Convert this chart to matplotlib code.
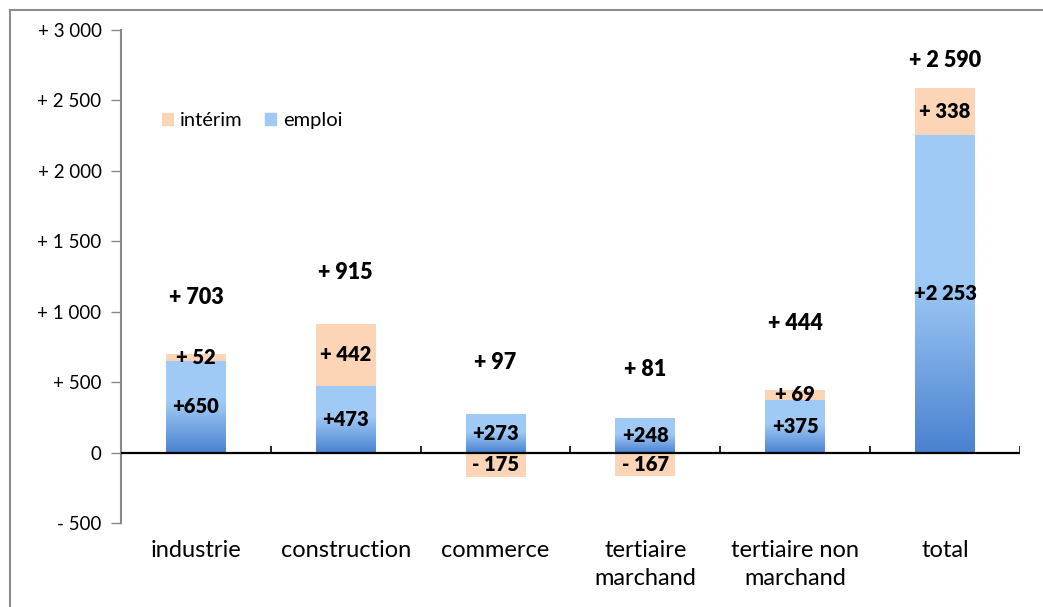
import numpy as np
import matplotlib
matplotlib.use("Agg")
import matplotlib.pyplot as plt
from matplotlib.patches import Patch, Rectangle
from matplotlib.colors import LinearSegmentedColormap

plt.rcParams["font.family"] = ["Lato", "DejaVu Sans"]

categories = ["industrie", "construction", "commerce", "tertiaire\nmarchand",
              "tertiaire non\nmarchand", "total"]
emploi = [650, 473, 273, 248, 375, 2253]
interim = [52, 442, -175, -167, 69, 338]
totals = [703, 915, 97, 81, 444, 2590]
# height (data units) where the total labels sit
total_label_y = [1100, 1278, 639, 589, 916, 2783]

yticks = [-500, 0, 500, 1000, 1500, 2000, 2500, 3000]


def fr(v, space=True):
    s = f"{abs(v):,}".replace(",", " ")
    sign = "+" if v >= 0 else "-"
    return f"{sign} {s}" if space else f"{sign}{s}"


peach = "#FBD5B5"
light_blue = "#A0CAF6"
dark_blue = "#4A82D0"

fig = plt.figure(figsize=(10.43, 6.07), dpi=100)
ax = fig.add_axes([121 / 1043, 84 / 607, 899 / 1043, 493 / 607])

x = np.arange(len(categories))
w = 0.4

# emploi bars with vertical gradient
cmap = LinearSegmentedColormap.from_list("emp", [dark_blue, light_blue])
grad = np.clip(np.linspace(0, 1, 256) / 0.55, 0, 1)[:, None]
for xi, v in zip(x, emploi):
    ax.imshow(grad, cmap=cmap, origin="lower", aspect="auto",
              extent=[xi - w / 2, xi + w / 2, 0, v], zorder=2)

bottoms = [e if i > 0 else 0 for e, i in zip(emploi, interim)]
ax.bar(x, interim, w, bottom=bottoms, color=peach, zorder=2)

# labels
for xi, e, i, b, t, ty in zip(x, emploi, interim, bottoms, totals, total_label_y):
    ax.text(xi, e / 2, fr(e, space=False) if e < 1000 else "+" + fr(e)[2:],
            ha="center", va="center", fontsize=14.5, fontweight="heavy", zorder=3)
    ax.text(xi, b + i / 2, fr(i), ha="center", va="center",
            fontsize=14.5, fontweight="heavy", zorder=3)
    ax.text(xi, ty, fr(t), ha="center", va="center",
            fontsize=15.5, fontweight="heavy", zorder=3)

ax.set_xlim(-0.5, len(categories) - 0.5)
ax.set_ylim(-500, 3000)

# zero line with category ticks
ax.axhline(0, color="black", lw=1.6, zorder=4)
ax.vlines(np.arange(0.5, len(categories)), 0, 45, color="black", lw=1.2, zorder=4)

ax.set_yticks(yticks)
ax.set_yticklabels([fr(v) if v != 0 else "0" for v in yticks], fontsize=13.5)
ax.tick_params(axis="y", length=7, color="#888888", width=1, pad=7)

ax.set_xticks(x)
ax.set_xticklabels(categories, fontsize=17, linespacing=1.45)
ax.tick_params(axis="x", length=0, pad=12)

for s in ["top", "right", "bottom"]:
    ax.spines[s].set_visible(False)
ax.spines["left"].set_color("#888888")
ax.spines["left"].set_linewidth(1.5)

handles = [Patch(color=peach, label="intérim"), Patch(color=light_blue, label="emploi")]
ax.legend(handles=handles, loc="upper left", bbox_to_anchor=(0.025, 0.87), ncol=2,
          frameon=False, fontsize=14.5, handlelength=0.55, handleheight=0.55,
          handletextpad=0.35, columnspacing=1.1)

# outer chart frame
fig.patches.append(Rectangle((10 / 1043, -0.1), 1.2, 0.1 + 597 / 607,
                             transform=fig.transFigure, fill=False,
                             edgecolor="#8c8c8c", lw=1.5))

fig.savefig("out.png", dpi=100)
